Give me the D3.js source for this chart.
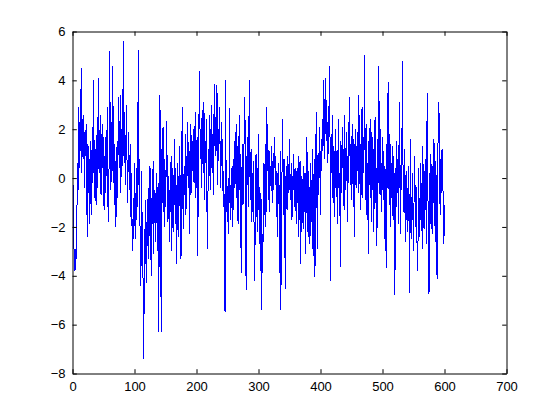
<!DOCTYPE html>
<html><head><meta charset="utf-8">
<script src="https://cdn.jsdelivr.net/npm/d3@7"></script>
<style>body{margin:0;background:#fff}svg{display:block}text{font-family:"Liberation Sans",Arial,sans-serif;font-size:13px;fill:#000}</style>
</head><body>
<svg id="c" width="560" height="420"></svg>
<script>
const xTicks = [0,100,200,300,400,500,600,700];
const yTicks = [-8,-6,-4,-2,0,2,4,6];
const values = [
-0.3,-2.5,-3.4,-3.8,-2.9,-3.3,-1.8,0.6,-0.5,2.9,0.4,2.3,1.1,4.5,0.2,2.4,0.8,2.6,-0.4,1.9,
0.9,2.2,-0.9,-2.4,1.4,-0.6,0.8,-1.9,1.5,-1.5,0.3,2.1,-0.2,4.0,0.5,-0.8,1.2,-1.1,0.9,2.5,
-0.4,4.1,1.3,0.2,2.6,-0.7,1.8,0.4,2.2,-0.3,-1.3,0.9,-0.6,1.7,0.1,2.9,-0.9,-1.8,0.6,5.2,
1.1,-0.5,2.3,0.3,4.6,-0.2,1.4,-1.1,0.7,-2.0,0.2,1.5,-0.8,3.3,1.6,0.4,3.4,-0.6,2.0,0.5,
1.8,5.6,0.9,2.7,-0.3,1.2,3.0,0.6,-1.0,1.9,0.4,-0.5,1.4,-1.6,0.2,-2.0,-3.0,-0.8,-2.5,0.6,
-2.5,-0.6,-1.7,0.4,-1.2,5.25,-0.3,0.8,-2.3,-4.4,0.3,-3.6,-1.4,-5.1,-7.4,-2.1,-3.5,-0.9,-4.3,-1.8,
-2.8,-0.4,-3.3,-1.1,0.5,-2.2,-4.0,-0.8,-1.9,0.7,-3.1,-0.5,-1.7,-2.6,0.2,-1.3,-3.0,-0.2,-6.3,-1.5,
3.4,-0.6,-6.3,1.2,-1.0,2.1,-0.4,-2.0,0.8,-1.2,0.3,2.35,-0.9,-1.8,0.1,-2.6,-0.5,-1.4,0.9,-3.0,
-1.1,0.4,-2.2,-0.7,1.6,-1.9,-0.3,-3.5,-1.2,0.6,-2.4,-0.8,1.3,-1.6,-3.3,0.2,2.9,-1.0,-2.1,0.5,
-0.7,1.8,-1.5,0.9,0.1,2.3,-0.4,1.1,-2.3,0.7,2.2,-0.6,1.5,0.3,2.0,-0.2,1.2,2.7,-0.8,0.9,
1.7,-3.2,0.4,2.5,4.4,0.8,1.9,-0.4,2.8,1.0,0.2,3.1,-0.9,1.5,0.6,2.4,-1.6,-2.9,1.2,0.1,
2.6,-0.5,1.3,3.0,0.4,1.8,-0.7,2.2,3.85,0.9,2.5,1.1,3.8,-0.3,2.0,0.7,2.9,1.4,-0.4,2.3,
0.5,1.6,-1.2,0.3,-2.1,-5.5,4.0,-1.4,0.1,-1.8,-0.6,-2.3,2.85,-1.0,-1.7,0.4,-0.9,-2.0,0.8,-1.3,
1.5,-0.4,0.9,2.2,-0.8,1.3,-1.9,0.6,2.6,-0.5,1.0,-3.9,-0.2,1.4,-1.1,0.3,2.0,3.3,-0.7,-4.6,
0.9,-0.3,1.7,-1.2,4.0,0.5,-0.9,1.2,-1.8,0.2,-1.4,0.7,-2.6,-4.2,-0.5,1.0,-1.6,0.4,-2.2,1.8,
-0.8,-1.9,-3.8,-0.6,-5.4,-2.3,-3.9,0.6,-1.5,-0.3,1.4,-2.0,2.9,0.3,2.2,-0.9,1.1,-1.4,0.5,-0.2,
1.3,-1.0,0.7,-0.5,1.0,1.7,-0.3,0.9,-1.6,0.2,-2.4,0.6,-0.8,-3.9,1.1,-5.4,-2.2,0.4,2.4,-0.7,
-1.5,0.8,-4.55,-0.2,0.5,-1.3,0.9,-0.6,0.3,1.6,-0.9,-0.2,0.6,-1.7,0.1,-0.5,1.0,-1.2,0.4,-0.8,
-1.9,0.3,-1.0,0.9,-2.4,-0.4,0.7,-3.5,-1.3,0.1,-0.7,-2.1,0.5,-1.4,0.2,-3.1,-0.5,1.7,-0.9,-2.4,
0.3,-1.1,-2.7,0.6,-0.4,-1.8,1.2,-3.2,-0.6,0.8,-4.05,-1.3,2.7,-0.2,-2.9,1.0,-0.7,2.1,0.4,-1.5,
1.6,0.3,2.4,1.1,4.0,0.8,2.9,4.1,1.5,3.2,0.6,2.3,1.0,3.6,4.6,-4.2,1.8,0.2,2.6,-0.8,
1.3,-1.6,0.5,2.0,-0.4,1.1,-1.9,0.7,2.4,-0.9,0.2,-3.65,1.5,-0.6,2.1,0.4,1.2,-1.3,2.6,0.1,
-0.5,1.9,0.6,-1.8,2.3,0.9,3.3,-0.3,1.4,-0.9,2.2,0.5,-1.2,1.6,-2.4,0.8,2.0,-0.4,1.1,0.3,
3.4,-0.6,2.6,1.0,-1.3,0.4,2.9,-0.8,1.7,0.2,5.05,1.3,-0.9,2.2,-1.5,0.6,-3.1,1.5,-0.3,2.4,
0.1,-1.8,1.9,-0.5,1.2,-2.2,0.7,2.5,-1.0,0.4,-2.8,1.6,-0.2,4.6,0.8,-0.7,2.0,-1.4,0.3,1.7,
-0.9,1.1,-2.5,0.5,-1.6,-3.7,1.4,-0.4,3.95,0.2,-1.1,1.8,-2.0,0.6,-0.8,1.3,-1.7,0.9,-0.3,-4.8,
0.4,-1.2,1.5,-0.6,0.8,-1.9,3.1,0.2,-2.3,1.0,-0.5,4.8,0.7,-1.4,1.2,-0.9,-2.6,0.3,-1.7,-0.4,
-2.2,0.5,-1.0,-4.7,1.6,-0.8,-2.5,0.2,-1.4,-3.0,-0.6,0.9,-2.0,-0.3,-1.5,-3.2,-3.8,0.4,-1.1,-2.4,
0.6,-1.7,-0.2,-2.9,1.3,-0.9,-2.1,0.3,-1.3,0.8,-2.7,3.5,-0.5,-1.6,-4.75,0.2,-1.9,1.0,-0.7,-2.3,
0.5,-1.0,1.6,-0.4,-2.6,0.7,-1.2,-4.15,0.9,1.9,3.1,0.3,-1.5,0.8,-0.6,1.2,0.1,-0.9,-2.7,-1.1
];

const L = 72.5, R = 506.5, T = 31.5, B = 373.5;
const svg = d3.select("#c");
const x = d3.scaleLinear().domain([0,700]).range([L,R]);
const y = d3.scaleLinear().domain([-8,6]).range([B,T]);

const line = d3.line().x((d,i)=>x(i+1)).y(d=>y(d));
svg.append("path").datum(values).attr("d",line)
  .attr("fill","none").attr("stroke","#0000ff").attr("stroke-width",1)
  .attr("shape-rendering","crispEdges");

const tl = 4.3;
const gx = svg.append("g").attr("transform",`translate(0,${B})`)
  .call(d3.axisBottom(x).tickValues(xTicks).tickSizeInner(-tl).tickSizeOuter(0).tickPadding(8).tickFormat(d3.format("d")));
const gxt = svg.append("g").attr("transform",`translate(0,${T})`)
  .call(d3.axisTop(x).tickValues(xTicks).tickSizeInner(-tl).tickSizeOuter(0).tickFormat(""));
const gy = svg.append("g").attr("transform",`translate(${L},0)`)
  .call(d3.axisLeft(y).tickValues(yTicks).tickSizeInner(-tl).tickSizeOuter(0).tickPadding(7).tickFormat(d3.format("d")));
const gyr = svg.append("g").attr("transform",`translate(${R},0)`)
  .call(d3.axisRight(y).tickValues(yTicks).tickSizeInner(-tl).tickSizeOuter(0).tickFormat(""));
[gx,gxt,gy,gyr].forEach(g=>{
  g.selectAll("path.domain").attr("stroke","#000").attr("stroke-width",1);
  g.selectAll(".tick line").attr("stroke","#000");
  g.selectAll("text").attr("font-size",13).attr("font-family","Liberation Sans, Arial, sans-serif").attr("fill","#000");
});
gx.selectAll("text").attr("dy","0.71em");
</script>
</body></html>
